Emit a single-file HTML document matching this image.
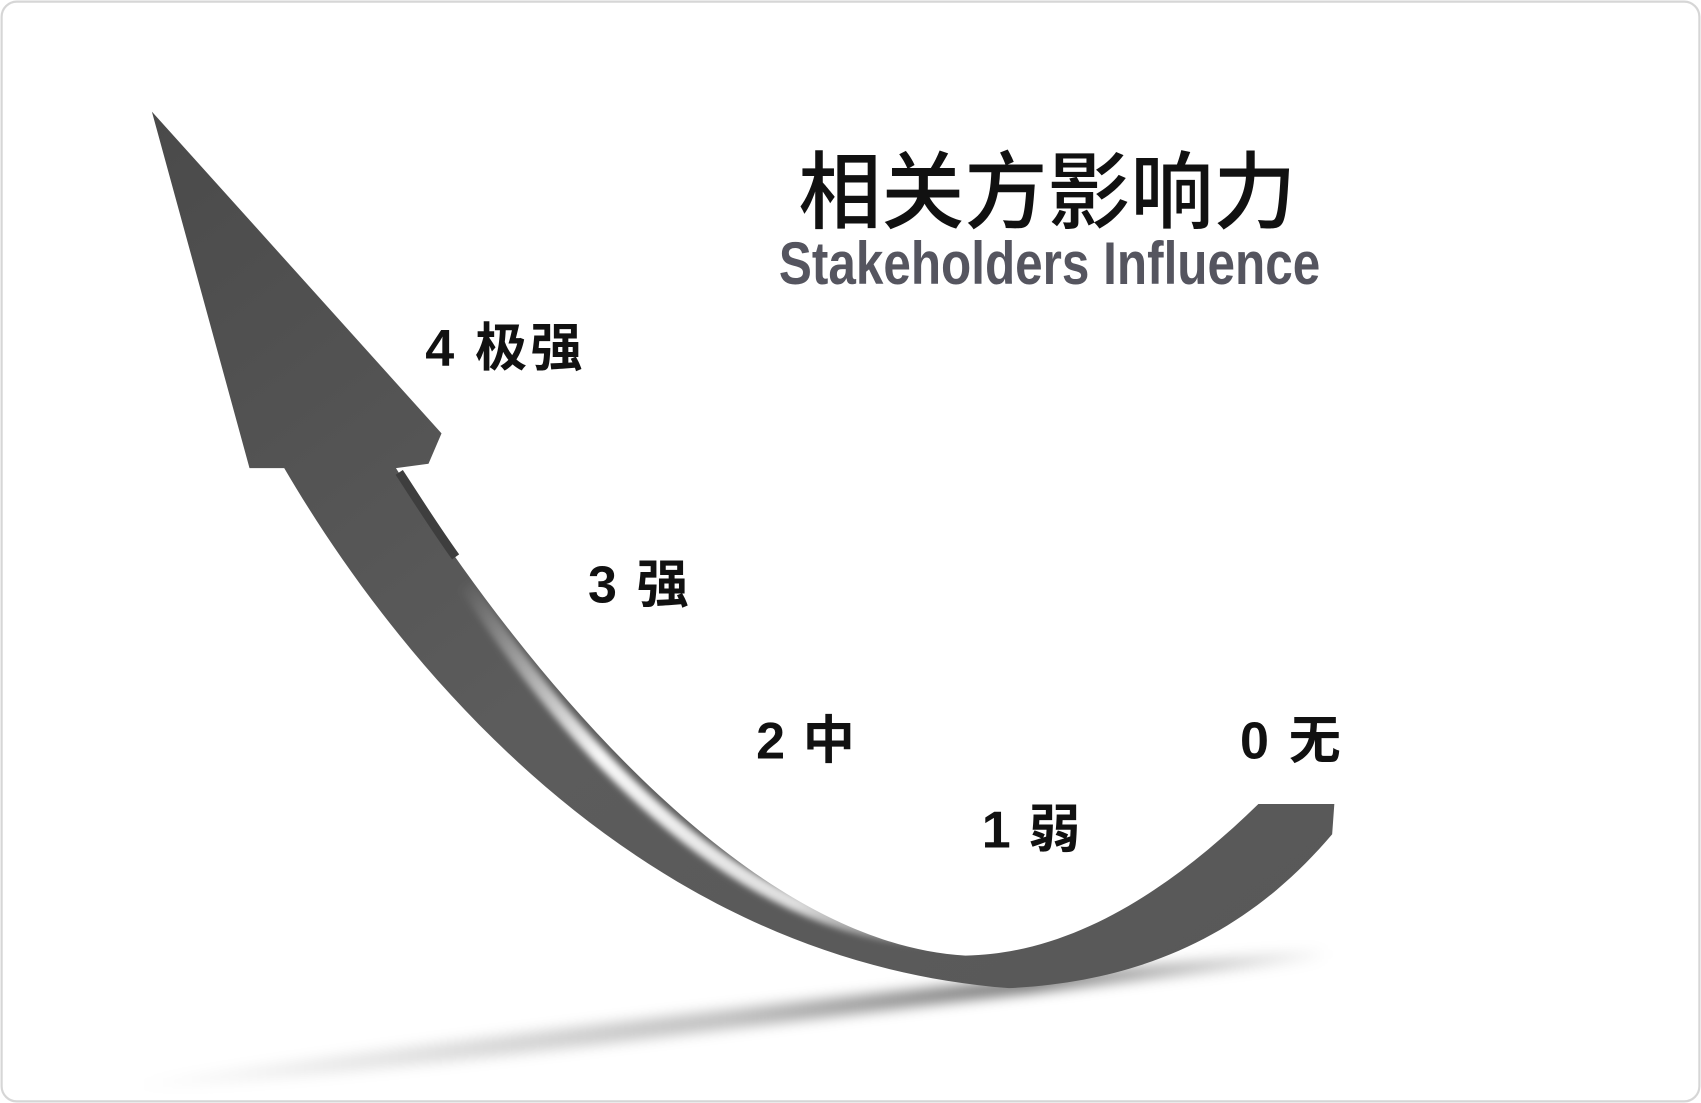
<!DOCTYPE html>
<html><head><meta charset="utf-8"><style>
html,body{margin:0;padding:0;background:#fff;}
svg{display:block;}
</style></head><body>
<svg width="1701" height="1103" viewBox="0 0 1568 1018" preserveAspectRatio="none" xmlns="http://www.w3.org/2000/svg">
<defs>
<linearGradient id="shadow" x1="0" y1="0" x2="1" y2="0">
<stop offset="0" stop-color="#000" stop-opacity="0"/>
<stop offset="0.5" stop-color="#000" stop-opacity="0.25"/>
<stop offset="0.75" stop-color="#000" stop-opacity="0.55"/>
<stop offset="1" stop-color="#000" stop-opacity="0"/>
</linearGradient>
<linearGradient id="body" x1="0" y1="0" x2="1" y2="1">
<stop offset="0" stop-color="#4a4a4a"/>
<stop offset="0.5" stop-color="#5c5c5c"/>
<stop offset="1" stop-color="#585858"/>
</linearGradient>
<linearGradient id="hl" gradientUnits="userSpaceOnUse" x1="440" y1="520" x2="880" y2="880">
<stop offset="0" stop-color="#fff" stop-opacity="0"/>
<stop offset="0.35" stop-color="#fff" stop-opacity="0.95"/>
<stop offset="0.75" stop-color="#fff" stop-opacity="0.8"/>
<stop offset="1" stop-color="#fff" stop-opacity="0"/>
</linearGradient>
<filter id="blur"><feGaussianBlur stdDeviation="6"/></filter>
<filter id="blur2"><feGaussianBlur stdDeviation="3"/></filter>
</defs>
<rect x="1.5" y="1.5" width="1565" height="1015" rx="14" fill="#fff" stroke="#d6d6d6" stroke-width="2"/>
<path d="M120,1000 C400,960 800,915 1225,875 L1225,885 C800,930 400,990 120,1005 Z" fill="url(#shadow)" filter="url(#blur)"/>
<path fill="url(#body)"
 d="M140,103 L407,400 L395,428 L365,432
    C470,600 680,870 890,882
    C990,880 1080,820 1160,742
    L1230,742 L1228,770
    C1160,850 1070,905 930,912
    C580,885 360,600 262,432
    L230,432 Z"/>
<path d="M430,540 C515,670 670,860 870,868" fill="none" stroke="url(#hl)" stroke-width="14" filter="url(#blur2)"/>
<path d="M368,436 C385,462 400,486 420,514" fill="none" stroke="#3e3e3e" stroke-width="8"/>
<text x="736" y="205" textLength="459" lengthAdjust="spacingAndGlyphs" font-family="'Liberation Sans','Noto Sans CJK SC',sans-serif" font-size="78" font-weight="500" fill="#111">相关方影响力</text>
<text x="718" y="262" textLength="499" lengthAdjust="spacingAndGlyphs" font-family="'Liberation Sans',sans-serif" font-size="56" font-weight="bold" fill="#55555f">Stakeholders Influence</text>
<g font-family="'Liberation Sans','Noto Sans CJK SC',sans-serif" font-size="48" font-weight="bold" fill="#111" lengthAdjust="spacingAndGlyphs">
<text x="392" y="338" textLength="145">4 极强</text>
<text x="542" y="556" textLength="93">3 强</text>
<text x="697" y="700" textLength="91">2 中</text>
<text x="905" y="782" textLength="91">1 弱</text>
<text x="1143" y="700" textLength="93">0 无</text>
</g>
</svg>
</body></html>
